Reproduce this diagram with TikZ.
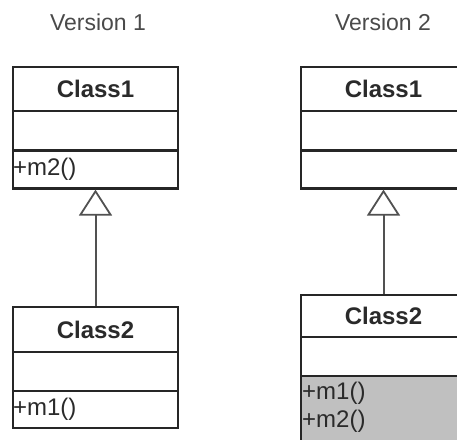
\documentclass[tikz,border=0pt]{standalone}
\usepackage{fontspec}
\setmainfont{Liberation Sans}
\usetikzlibrary{arrows.meta}
\definecolor{ink}{HTML}{262626}
\definecolor{txt}{HTML}{2A2A2A}
\definecolor{title}{HTML}{4A4A4A}
\definecolor{shade}{HTML}{C0C0C0}
\tikzset{
  compart/.style={draw=ink, line width=2.2pt, inner sep=0pt, minimum width=165pt},
  cname/.style={font=\fontsize{24}{27}\selectfont\bfseries, text=txt},
  member/.style={font=\fontsize{24}{27}\selectfont, text=txt, anchor=west, inner sep=0pt},
  vtitle/.style={font=\fontsize{23}{27}\selectfont, text=title},
  inherit/.style={draw=ink!80, line width=2pt, -{Triangle[open, length=26pt, width=33pt, line width=1.8pt]}}
}
\begin{document}
\begin{tikzpicture}[x=1pt, y=-1pt]
  \useasboundingbox (0,0) rectangle (457,439);
  \clip (0,0) rectangle (457,439);
  \fill[white] (0,0) rectangle (457,439);

  % column headings
  \node[vtitle] (t1) at (98,22) {Version 1};
  \node[vtitle] (t2) at (383,22) {Version 2};

  % Version 1: Class1
  \node[compart, minimum height=44pt] (a1n) at (95.5,89) {};
  \node[cname] at (a1n.center) {Class1};
  \node[compart, minimum height=39pt] (a1a) at (95.5,130.5) {};
  \node[compart, minimum height=38pt] (a1m) at (95.5,169.5) {};
  \node[member] (a1m1) at ([xshift=1pt]a1m.west) {+m2()};

  % Version 1: Class2
  \node[compart, minimum height=45pt] (a2n) at (95.5,329.5) {};
  \node[cname] at (a2n.center) {Class2};
  \node[compart, minimum height=39pt] (a2a) at (95.5,371.5) {};
  \node[compart, minimum height=37pt] (a2m) at (95.5,409.5) {};
  \node[member] (a2m1) at ([xshift=1pt]a2m.west) {+m1()};

  \draw[inherit] (a2n.north) -- (a1m.south);

  % Version 2: Class1
  \node[compart, minimum height=44pt] (b1n) at (383.5,89) {};
  \node[cname] at (b1n.center) {Class1};
  \node[compart, minimum height=39pt] (b1a) at (383.5,130.5) {};
  \node[compart, minimum height=38pt] (b1m) at (383.5,169.5) {};

  % Version 2: Class2 with inherited operations
  \node[compart, minimum height=42pt] (b2n) at (383.5,316) {};
  \node[cname] at (b2n.center) {Class2};
  \node[compart, minimum height=39pt] (b2a) at (383.5,356.5) {};
  \node[compart, fill=shade, minimum height=70pt] (b2m) at (383.5,411) {};
  \node[member] (b2m1) at (302,393) {+m1()};
  \node[member] (b2m2) at (302,421) {+m2()};

  \draw[inherit] (b2n.north) -- (b1m.south);
\end{tikzpicture}
\end{document}
